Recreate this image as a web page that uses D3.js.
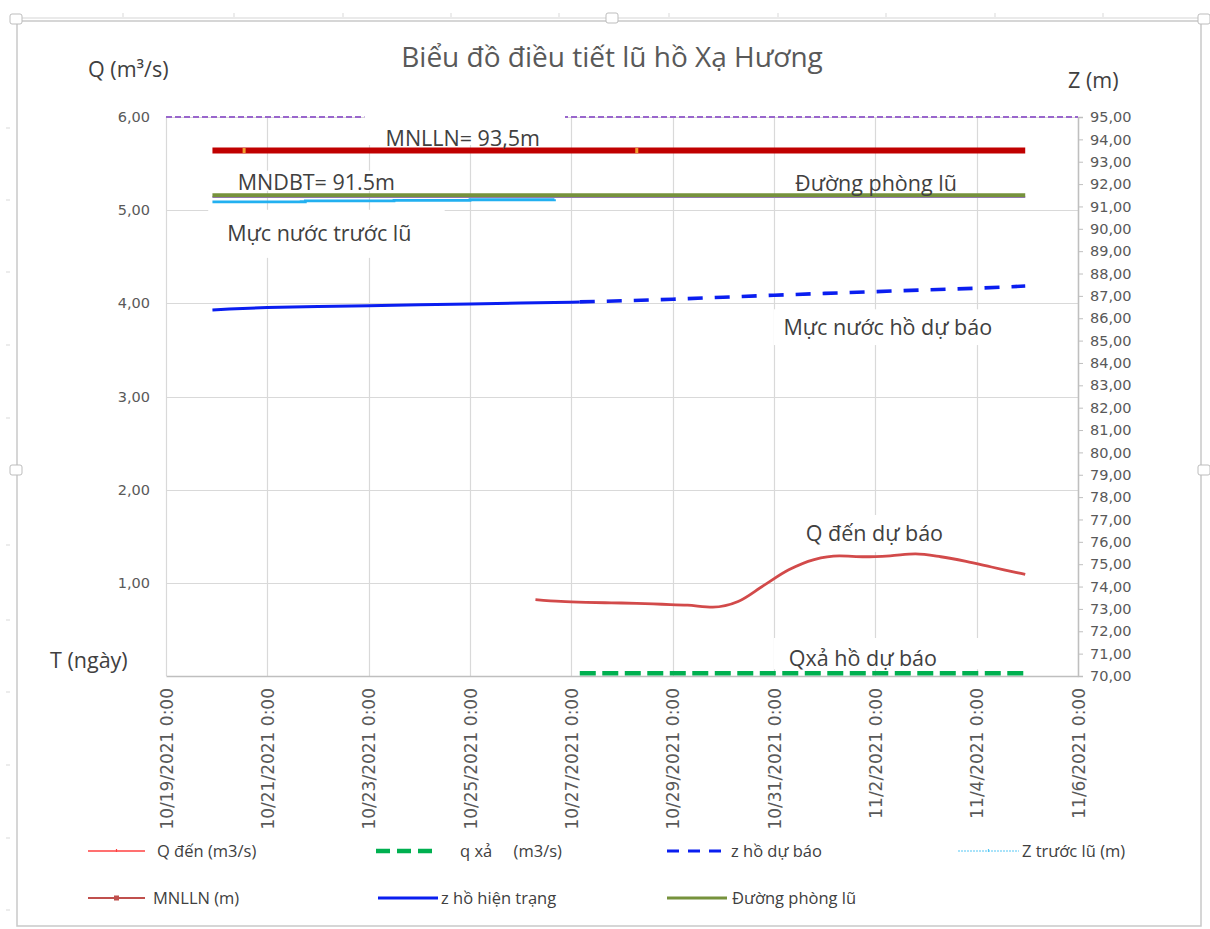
<!DOCTYPE html>
<html><head><meta charset="utf-8">
<script src="https://cdn.jsdelivr.net/npm/d3@7"></script>
<style>body{margin:0;background:#fff}svg{display:block}</style>
</head><body>
<script>
// ---------------- DATA ----------------
const xTickDates = ["2021-10-19T00:00","2021-10-21T00:00","2021-10-23T00:00","2021-10-25T00:00","2021-10-27T00:00",
  "2021-10-29T00:00","2021-10-31T00:00","2021-11-02T00:00","2021-11-04T00:00","2021-11-06T00:00"];
const qTicks = [1,2,3,4,5,6];
const zTicks = [70,71,72,73,74,75,76,77,78,79,80,81,82,83,84,85,86,87,88,89,90,91,92,93,94,95];

const qDenTimes = ["2021-10-26T07:00","2021-10-26T19:00","2021-10-27T07:00","2021-10-27T19:00","2021-10-28T07:00",
  "2021-10-28T19:00","2021-10-29T07:00","2021-10-29T19:00","2021-10-30T07:00","2021-10-30T19:00","2021-10-31T07:00",
  "2021-10-31T19:00","2021-11-01T07:00","2021-11-01T19:00","2021-11-02T07:00","2021-11-02T19:00","2021-11-03T07:00",
  "2021-11-03T19:00","2021-11-04T07:00","2021-11-04T19:00","2021-11-04T23:00"];
const qDenValues = [0.82,0.80,0.79,0.785,0.78,0.77,0.76,0.74,0.80,0.97,1.14,1.25,1.29,1.28,1.29,1.31,1.28,1.23,1.17,1.11,1.09];

const qXaTimes = ["2021-10-27T04:00","2021-11-04T23:00"];
const qXaValues = [0.03,0.03];

const zHienTrangTimes = ["2021-10-19T22:00","2021-10-20T06:00","2021-10-21T00:00","2021-10-22T00:00","2021-10-23T00:00",
  "2021-10-24T00:00","2021-10-25T00:00","2021-10-26T00:00","2021-10-27T00:00","2021-10-27T04:00"];
const zHienTrangValues = [86.37,86.41,86.48,86.52,86.56,86.60,86.64,86.68,86.72,86.73];

const zDuBaoTimes = ["2021-10-27T04:00","2021-10-28T00:00","2021-10-29T00:00","2021-10-30T00:00","2021-10-31T00:00",
  "2021-11-01T00:00","2021-11-02T00:00","2021-11-03T00:00","2021-11-04T00:00","2021-11-04T23:00"];
const zDuBaoValues = [86.73,86.78,86.85,86.94,87.03,87.11,87.19,87.27,87.34,87.44];

const zTruocLuTimes = ["2021-10-19T22:00","2021-10-21T16:00","2021-10-21T18:00","2021-10-23T12:00","2021-10-25T00:00","2021-10-26T16:00"];
const zTruocLuValues = [91.20,91.21,91.25,91.27,91.30,91.32];

const mnllnTimes = ["2021-10-19T22:00","2021-11-04T23:00"];
const mnllnValues = [93.5,93.5];
const mnllnMarkerTimes = ["2021-10-20T13:00","2021-10-28T07:00"];

const phongLuTimes = ["2021-10-19T22:00","2021-11-04T23:00"];
const phongLuValues = [91.5,91.5];
const phongLuPurpleValues = [91.42,91.42];

const topLineTimes = ["2021-10-19T00:00","2021-11-06T00:00"];
const topLineValues = [95,95];

// ---------------- CHART ----------------
const W = 1210, H = 929;
const parse = d3.timeParse("%Y-%m-%dT%H:%M");
const svg = d3.select("body").append("svg").attr("width", W).attr("height", H);

const plot = {left:166, right:1078, top:117, bottom:676};
const x = d3.scaleTime().domain([parse(xTickDates[0]), parse(xTickDates[xTickDates.length-1])]).range([plot.left, plot.right]);
const yQ = d3.scaleLinear().domain([0,6]).range([plot.bottom, plot.top]);
const yZ = d3.scaleLinear().domain([70,95]).range([plot.bottom, plot.top]);
const loc = d3.formatLocale({decimal:",", thousands:".", grouping:[3], currency:["",""]});
const fmt = loc.format(".2f");
const tickFont = "'DejaVu Sans', Verdana, sans-serif";
const textFont = "'Open Sans', 'Noto Sans', sans-serif";

// spreadsheet background hints
const bg = svg.append("g").attr("stroke","#d9d9d9").attr("stroke-width",1);
[123,234,343,451,559,669,778,886,995,1103].forEach(v=>bg.append("line").attr("x1",v).attr("x2",v).attr("y1",13).attr("y2",17));
[128,200,272,345,418,545,620,692,765,838,910].forEach(v=>bg.append("line").attr("x1",6).attr("x2",10).attr("y1",v).attr("y2",v));

// chart frame
svg.append("rect").attr("x",17).attr("y",21).attr("width",1184).attr("height",905)
  .attr("fill","#fff").attr("stroke","#c9c9c9").attr("stroke-width",1.5);
svg.append("rect").attr("x",14).attr("y",18).attr("width",1190).attr("height",3).attr("fill","none").attr("stroke","#d6d6d6").attr("stroke-width",1);
[[10,14],[606,13],[1198,14],[10,465],[1198,465]].forEach(([a,b])=>
  svg.append("rect").attr("x",a).attr("y",b).attr("width",12).attr("height",10).attr("rx",2)
   .attr("fill","#fff").attr("stroke","#bdbdbd").attr("stroke-width",1));

// gridlines
const grid = svg.append("g").attr("stroke","#d9d9d9").attr("stroke-width",1.2);
xTickDates.forEach(d=>{
  const xv = Math.round(x(parse(d)))+0.5;
  grid.append("line").attr("x1",xv).attr("x2",xv).attr("y1",plot.top).attr("y2",plot.bottom);
});
qTicks.forEach(v=>{
  const yv = Math.round(yQ(v))+0.5;
  grid.append("line").attr("x1",plot.left).attr("x2",plot.right).attr("y1",yv).attr("y2",yv);
});

// left axis labels
const axL = svg.append("g").attr("transform",`translate(${plot.left},0)`)
  .call(d3.axisLeft(yQ).tickValues(qTicks).tickFormat(fmt).tickSize(0).tickPadding(16));
axL.select(".domain").remove();
axL.selectAll("text").attr("font-family",tickFont).attr("font-size",14.5).attr("fill","#595959");

// right axis
const axR = svg.append("g").attr("transform",`translate(${plot.right},0)`)
  .call(d3.axisRight(yZ).tickValues(zTicks).tickFormat(fmt).tickSize(5).tickPadding(7));
axR.select(".domain").attr("stroke","#bfbfbf").attr("stroke-width",1.5);
axR.selectAll("line").attr("stroke","#bfbfbf");
axR.selectAll("text").attr("font-family",tickFont).attr("font-size",14.5).attr("fill","#595959");

// bottom axis
const axB = svg.append("g").attr("transform",`translate(0,${plot.bottom})`)
  .call(d3.axisBottom(x).tickValues(xTickDates.map(parse)).tickFormat(d3.timeFormat("%-m/%-d/%Y %-H:%M")).tickSize(0));
axB.select(".domain").attr("stroke","#bfbfbf").attr("stroke-width",1.5);
axB.selectAll("text").attr("font-family",tickFont).attr("font-size",17).attr("fill","#595959")
  .attr("transform","rotate(-90)").attr("text-anchor","end").attr("x",-12).attr("y",0).attr("dy","0.36em");

// layers
const below = svg.append("g").attr("fill","none");
const boxLayer = svg.append("g");
const series = svg.append("g").attr("fill","none");
const textLayer = svg.append("g");

const pts = (times, vals) => times.map((t,i)=>({t:parse(t), v:vals[i]}));
const lineZ = d3.line().x(d=>x(d.t)).y(d=>yZ(d.v));
const lineZstep = d3.line().x(d=>x(d.t)).y(d=>yZ(d.v)).curve(d3.curveStepAfter);
const lineQ = d3.line().x(d=>x(d.t)).y(d=>yQ(d.v));
const lineQsmooth = d3.line().x(d=>x(d.t)).y(d=>yQ(d.v)).curve(d3.curveMonotoneX);

// top purple dashed line
below.append("path").datum(pts(topLineTimes, topLineValues)).attr("d",lineZ)
  .attr("stroke","#9966cc").attr("stroke-width",1.8).attr("stroke-dasharray","6,3");

// annotation label boxes (white backgrounds as in the reference)
const boxes = [
  {t:"2021-10-22T22:00", t2:"2021-10-26T21:00", z1:95.25, z2:93.75},
  {t:"2021-10-20T08:00", t2:"2021-10-23T20:00", z1:92.6, z2:91.7},
  {t:"2021-10-19T20:00", t2:"2021-10-24T12:00", z1:90.85, z2:88.7},
  {t:"2021-10-31T00:00", t2:"2021-11-05T12:00", z1:86.4, z2:84.8},
  {t:"2021-10-31T14:00", t2:"2021-11-03T14:00", z1:77.2, z2:75.55},
  {t:"2021-10-31T00:00", t2:"2021-11-04T05:00", z1:71.7, z2:70.3}
];
boxes.forEach(b=>{
  boxLayer.append("rect").attr("x",x(parse(b.t))).attr("y",yZ(b.z1))
    .attr("width",x(parse(b.t2))-x(parse(b.t))).attr("height",yZ(b.z2)-yZ(b.z1)).attr("fill","#fff");
});

// Z trước lũ
series.append("path").datum(pts(zTruocLuTimes, zTruocLuValues)).attr("d",lineZstep)
  .attr("stroke","#22b0f0").attr("stroke-width",2.8);
// purple thin under phòng lũ
series.append("path").datum(pts(phongLuTimes, phongLuPurpleValues)).attr("d",lineZ)
  .attr("stroke","#9b6fd0").attr("stroke-width",2);
// Đường phòng lũ
series.append("path").datum(pts(phongLuTimes, phongLuValues)).attr("d",lineZ)
  .attr("stroke","#76923c").attr("stroke-width",4);
// MNLLN
series.append("path").datum(pts(mnllnTimes, mnllnValues)).attr("d",lineZ)
  .attr("stroke","#c00000").attr("stroke-width",6);
mnllnMarkerTimes.forEach(t=>{
  series.append("rect").attr("x",x(parse(t))-1.5).attr("y",yZ(93.5)-2.5).attr("width",3).attr("height",5).attr("fill","#f0a030");
});
// z hồ hiện trạng
series.append("path").datum(pts(zHienTrangTimes, zHienTrangValues)).attr("d",lineZ)
  .attr("stroke","#0a1ef0").attr("stroke-width",3);
// z hồ dự báo
series.append("path").datum(pts(zDuBaoTimes, zDuBaoValues)).attr("d",lineZ)
  .attr("stroke","#0a1ef0").attr("stroke-width",3.6).attr("stroke-dasharray","15,12");
// Q đến
series.append("path").datum(pts(qDenTimes, qDenValues)).attr("d",lineQsmooth)
  .attr("stroke","#d24a4a").attr("stroke-width",2.8);
// q xả
series.append("path").datum(pts(qXaTimes, qXaValues)).attr("d",lineQ)
  .attr("stroke","#00b050").attr("stroke-width",4.5).attr("stroke-dasharray","16,6.5");

// titles
textLayer.append("text").attr("x",612).attr("y",67).attr("text-anchor","middle").attr("font-family",textFont)
  .attr("font-size",28).attr("fill","#595959").text("Biểu đồ điều tiết lũ hồ Xạ Hương");
textLayer.append("text").attr("x",88).attr("y",77).attr("font-family",textFont).attr("font-size",21.5).attr("fill","#404040").text("Q (m³/s)");
textLayer.append("text").attr("x",1068).attr("y",88).attr("font-family",textFont).attr("font-size",21.5).attr("fill","#404040").text("Z (m)");
textLayer.append("text").attr("x",50).attr("y",668).attr("font-family",textFont).attr("font-size",21.5).attr("fill","#404040").text("T (ngày)");

// annotations
const notes = [
  {txt:"MNLLN= 93,5m", t:"2021-10-23T08:00", z:93.72},
  {txt:"MNDBT= 91.5m", t:"2021-10-20T10:00", z:91.74},
  {txt:"Đường phòng lũ", t:"2021-10-31T10:00", z:91.7},
  {txt:"Mực nước trước lũ", t:"2021-10-20T05:00", z:89.45},
  {txt:"Mực nước hồ dự báo", t:"2021-10-31T04:30", z:85.25},
  {txt:"Q đến dự báo", t:"2021-10-31T15:00", z:76.05},
  {txt:"Qxả hồ dự báo", t:"2021-10-31T07:00", z:70.45}
];
notes.forEach(n=>{
  textLayer.append("text").attr("x",x(parse(n.t))).attr("y",yZ(n.z)).attr("font-family",textFont)
    .attr("font-size",21.5).attr("fill","#404040").text(n.txt);
});

// legend
const legend = [
  {name:"Q đến (m3/s)", x1:88, x2:145, tx:157, row:0, color:"#ff4040", w:1.6, dash:null, marker:"tick"},
  {name:"q xả     (m3/s)", x1:376, x2:438, tx:460, row:0, color:"#00b050", w:4.5, dash:"14,7", marker:null},
  {name:"z hồ dự báo", x1:667, x2:727, tx:731, row:0, color:"#0a1ef0", w:3.2, dash:"12,9", marker:null},
  {name:"Z trước lũ (m)", x1:958, x2:1019, tx:1022, row:0, color:"#55c8f5", w:1.2, dash:"2,1", marker:"tick"},
  {name:"MNLLN (m)", x1:88, x2:145, tx:153, row:1, color:"#c0504d", w:2, dash:null, marker:"dot"},
  {name:"z hồ hiện trạng", x1:378, x2:438, tx:441, row:1, color:"#0a1ef0", w:3, dash:null, marker:null},
  {name:"Đường phòng lũ", x1:667, x2:727, tx:732, row:1, color:"#76923c", w:3.2, dash:null, marker:null}
];
const rows = [851, 898];
const lg = svg.append("g");
legend.forEach(l=>{
  const yy = rows[l.row];
  lg.append("line").attr("x1",l.x1).attr("x2",l.x2).attr("y1",yy).attr("y2",yy)
    .attr("stroke",l.color).attr("stroke-width",l.w).attr("stroke-dasharray",l.dash);
  const mx = (l.x1+l.x2)/2;
  if(l.marker==="dot") lg.append("rect").attr("x",mx-2.5).attr("y",yy-2.5).attr("width",5).attr("height",5).attr("fill",l.color);
  if(l.marker==="tick") lg.append("line").attr("x1",mx).attr("x2",mx).attr("y1",yy-2).attr("y2",yy+1).attr("stroke",l.color).attr("stroke-width",1.2);
  lg.append("text").attr("x",l.tx).attr("y",yy+5.5).attr("font-family",textFont).attr("font-size",16.5)
    .attr("fill","#404040").style("white-space","pre").text(l.name);
});
</script>
</body></html>
